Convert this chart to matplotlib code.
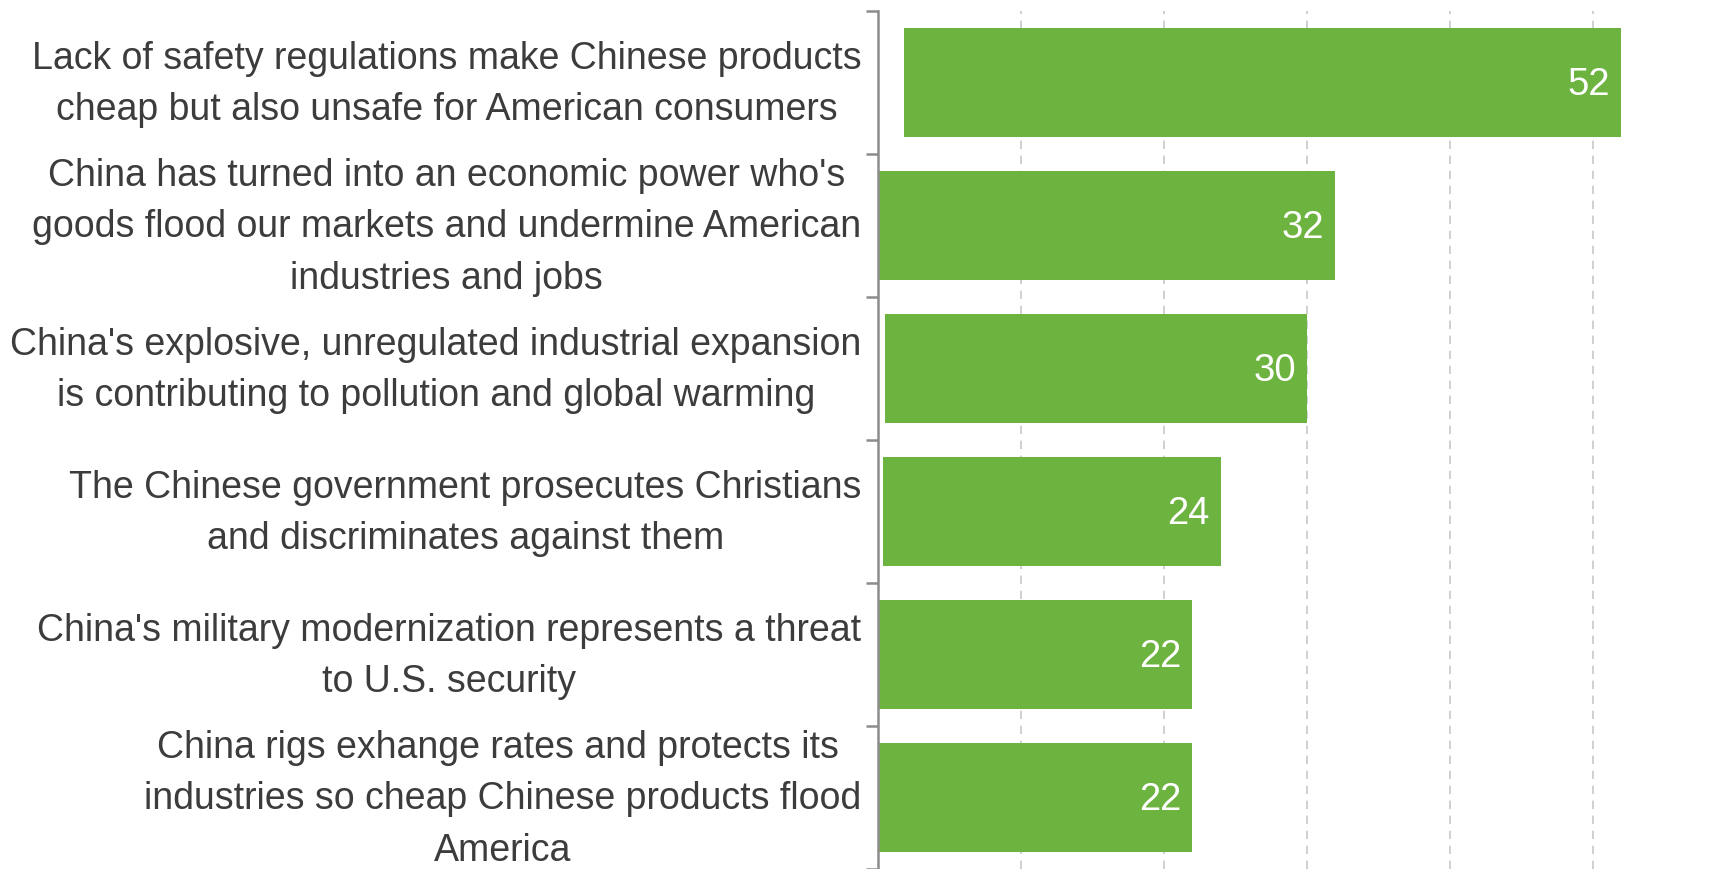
import matplotlib.pyplot as plt
import matplotlib.transforms as mtransforms
import numpy as np

# statements, top to bottom
statements = [
    "Lack of safety regulations make Chinese products\ncheap but also unsafe for American consumers",
    "China has turned into an economic power who's\ngoods flood our markets and undermine American\nindustries and jobs",
    "China's explosive, unregulated industrial expansion\nis contributing to pollution and global warming",
    "The Chinese government prosecutes Christians\nand discriminates against them",
    "China's military modernization represents a threat\nto U.S. security",
    "China rigs exhange rates and protects its \nindustries so cheap Chinese products flood\nAmerica",
]
values = [52, 32, 30, 24, 22, 22]
# bars in the source do not all start exactly at zero
bar_start = [1.8, 0, 0.5, 0.35, 0, 0]
grid_ticks = [10, 20, 30, 40, 50]

green = "#6db33f"
text_col = "#3c3c3c"
axis_col = "#8c8c8c"

plt.rcParams['font.family'] = ['Liberation Sans', 'DejaVu Sans']

fig = plt.figure(figsize=(17.2, 8.69), dpi=100)
ax = fig.add_axes([878 / 1720, 0, 1 - 878 / 1720, (869 - 11) / 869])

y = np.arange(len(values))
widths = [v - s for v, s in zip(values, bar_start)]
ax.barh(y, widths, left=bar_start, height=0.76, color=green, zorder=2)

for i, v in enumerate(values):
    ax.annotate(str(v), xy=(v, i), xytext=(-8, -1.5), textcoords='offset points',
                ha='right', va='center', color='white', fontsize=27.5)

ax.set_xlim(0, 58.9)
ax.set_ylim(len(values) - 0.5, -0.5)

# dashed vertical gridlines
ax.set_xticks(grid_ticks)
ax.tick_params(axis='x', length=0, labelbottom=False)
ax.grid(axis='x', color='#c8c8c8', linestyle=(0, (5, 4)), linewidth=1.2, zorder=0)

# category labels at centres, tick marks at the boundaries
ax.set_yticks(y)
ax.set_yticklabels(statements, fontsize=27, color=text_col,
                   multialignment='center', linespacing=1.55)
ax.set_yticks(np.arange(-0.5, len(values), 1), minor=True)
ax.tick_params(axis='y', which='major', length=0, pad=12)
ax.tick_params(axis='y', which='minor', length=9, width=1.8, color=axis_col)

# labels sit a little above the bar centres in the source
shift = mtransforms.ScaledTranslation(0, 7 / 72, fig.dpi_scale_trans)
for lbl in ax.get_yticklabels():
    lbl.set_transform(lbl.get_transform() + shift)

for side in ['top', 'right', 'bottom']:
    ax.spines[side].set_visible(False)
ax.spines['left'].set_color(axis_col)
ax.spines['left'].set_linewidth(1.8)

fig.savefig("out.png", dpi=100)
